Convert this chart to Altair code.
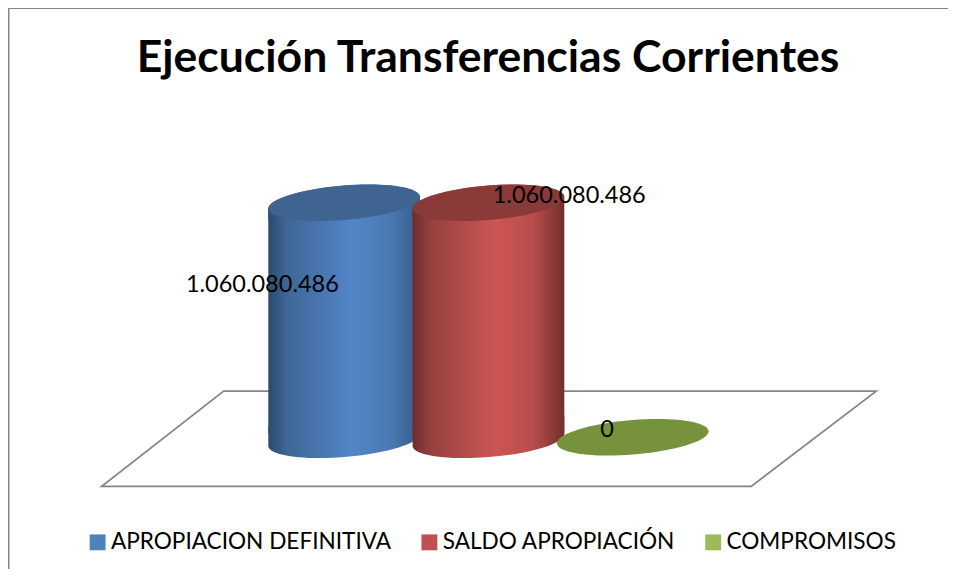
import altair as alt
import pandas as pd

categories = ["APROPIACION DEFINITIVA", "SALDO APROPIACIÓN", "COMPROMISOS"]
values = [1060080486, 1060080486, 0]
value_labels = ["1.060.080.486", "1.060.080.486", "0"]
legend_colors = ["#4f81bd", "#c0504d", "#9bbb59"]
cap_colors = ["#3f6491", "#8a3a38", "#76923c"]

df = pd.DataFrame({"cat": categories, "val": values, "label": value_labels})

FONT = "Lato"
TOP = 80  # padding above plot group
x_enc = alt.X("cat:N", sort=categories, axis=None,
              scale=alt.Scale(domain=categories, range=[264.0, 696.9], paddingInner=0, paddingOuter=0))
y_scale = alt.Scale(domain=[0, 1060080486], range=[345.8, 119.7])
y_enc = alt.Y("val:Q", axis=None, scale=y_scale)
y_zero = alt.Y("zero:Q", axis=None, scale=y_scale)


def grad(stops):
    return alt.LinearGradient(
        gradient="linear", x1=0, x2=1, y1=0, y2=0,
        stops=[alt.GradientStop(offset=o, color=c) for o, c in stops],
    )


blue = grad([(0, "#2c4a6e"), (0.12, "#3f6695"), (0.55, "#5285c9"), (0.8, "#4b79b3"), (1, "#365c88")])
red = grad([(0, "#6b2e2c"), (0.12, "#95403e"), (0.55, "#cd5654"), (0.8, "#b74d4b"), (1, "#722f2d")])

ELL = "A 76.7 17.4 -4.7 0 1"
cap_path = f"M -76.5 6 {ELL} 76.5 -6 {ELL} -76.5 6 Z"
low_cap = f"M -76.5 -12 {ELL} 76.5 -24 L 76.5 -6 {ELL} -76.5 6 L -76.5 -12 Z"
top_fill = f"M -76.5 6 {ELL} 76.5 -6 L 76.5 4 {ELL} -76.5 16 Z"
floor_path = "M -267 -43 L 391 -43 L 265 53 L -390 53 Z"
SZ = 3.933  # unit scale for custom shapes


def row(i):
    return alt.Chart(pd.DataFrame(df.iloc[[i]]))


layers = []

# border
layers.append(alt.Chart(pd.DataFrame({"a": [0]})).mark_rule(color="#868686", strokeWidth=1.5).encode(
    x=alt.value(0.75), y=alt.value(-TOP), y2=alt.value(561 - TOP)))
layers.append(alt.Chart(pd.DataFrame({"a": [0]})).mark_rule(color="#868686", strokeWidth=1).encode(
    x=alt.value(0), x2=alt.value(940), y=alt.value(-TOP + 0.5)))

# floor
layers.append(alt.Chart(pd.DataFrame({"cat": [categories[1]], "val": [0]})).mark_point(
    shape=floor_path, size=SZ, filled=True, fill="white", stroke="#868686", strokeWidth=1.8, opacity=1
).encode(x=x_enc, y=y_enc))

# legend carrier
layers.append(alt.Chart(df).mark_bar(size=1, opacity=1).encode(
    x=x_enc, y=y_zero,
    color=alt.Color("cat:N", sort=categories,
                    scale=alt.Scale(domain=categories, range=legend_colors),
                    legend=alt.Legend(
                        title=None, orient="none", legendX=78.3, legendY=443,
                        direction="horizontal", columns=3, symbolType="square", symbolSize=252,
                        symbolStrokeWidth=0, labelFont=FONT, labelFontSize=22.6, labelColor="#000000",
                        labelLimit=400, columnPadding=26.8, labelOffset=2,
                    ))
).transform_calculate(zero="0"))

# cylinders
for i, g in ((0, blue), (1, red)):
    layers.append(row(i).mark_point(shape=low_cap, size=SZ, filled=True, fill=g, opacity=1, yOffset=6).encode(x=x_enc, y=y_zero).transform_calculate(zero="0"))
    layers.append(row(i).mark_bar(width=151.7, fill=g, opacity=1).encode(x=x_enc, y=y_enc, y2=alt.Y2(datum=0)))
    layers.append(row(i).mark_point(shape=top_fill, size=SZ, filled=True, fill=g, opacity=1, yOffset=-5).encode(x=x_enc, y=y_enc))
    layers.append(row(i).mark_point(shape=cap_path, size=SZ, filled=True, fill=cap_colors[i], opacity=1, yOffset=-5).encode(x=x_enc, y=y_enc))

layers.append(row(2).mark_point(shape=cap_path, size=SZ, filled=True, fill=cap_colors[2], opacity=1, yOffset=3.5).encode(x=x_enc, y=y_enc))

# labels
for i, dx, dy in ((0, -81.8, 77.3), (1, 80.8, -12), (2, -25.8, -4)):
    layers.append(row(i).mark_text(font=FONT, fontSize=23.5, color="#000000", dx=dx, dy=dy).encode(
        x=x_enc, y=y_enc, text="label:N"))

chart = alt.layer(*layers).properties(
    width=940, height=561 - TOP,
    padding={"left": 0, "top": TOP, "right": 0, "bottom": 0},
    autosize=alt.AutoSizeParams(type="none"),
    title=alt.TitleParams("Ejecución Transferencias Corrientes", font=FONT, fontSize=44.5, fontWeight="bold",
                          color="#000000", anchor="middle", dx=10, offset=-109.5, baseline="alphabetic"),
).configure_view(stroke=None)

chart.save("out.html", embed_options={"renderer": "svg", "actions": False})
